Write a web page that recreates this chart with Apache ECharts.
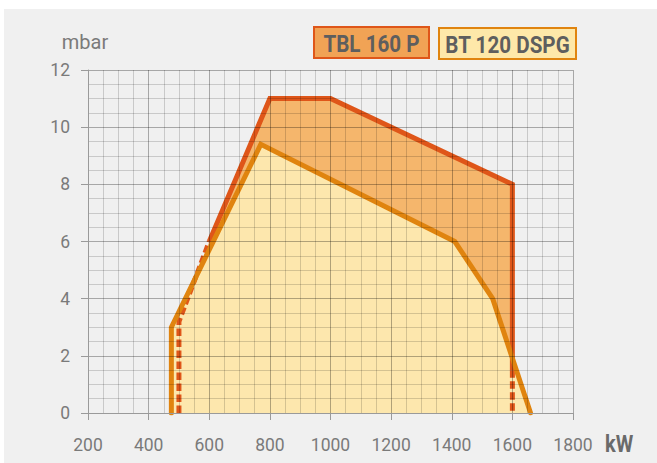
<!DOCTYPE html>
<html>
<head>
<meta charset="utf-8">
<script src="https://cdn.jsdelivr.net/npm/echarts@6/dist/echarts.min.js"></script>
<style>
html,body{margin:0;padding:0;background:#ffffff;}
#bg{position:absolute;left:4px;top:9px;width:653px;height:454px;background:#f0f0f0;}
#chart{position:absolute;left:0;top:0;width:657px;height:463px;}
</style>
</head>
<body>
<div id="bg"></div>
<div id="chart"></div>
<script>
// ---- data ----
const seriesNames = ['TBL 160 P', 'BT 120 DSPG'];
const tblX = [500, 500, 600, 800, 1000, 1600, 1600, 1600];
const tblY = [0, 3.2, 6, 11, 11, 8, 1.5, 0];
const btX = [475, 475, 770, 1410, 1535, 1660];
const btY = [0, 3, 9.4, 6, 4, 0];
const xTickMin = 200, xTickMax = 1800, xTickStep = 200;
const yTickMin = 0, yTickMax = 12, yTickStep = 2;
const xUnit = 'kW', yUnit = 'mbar';

const pts = (xs, ys) => xs.map((x, i) => [x, ys[i]]);
const tbl = pts(tblX, tblY);
const bt = pts(btX, btY);

const FONT = "Roboto, 'DejaVu Sans Condensed', sans-serif";
const RED = '#df5619', ORANGE = '#e0840f';
const TBL_FILL = '#f5b66c', BT_FILL = '#fde7ad';

const chart = echarts.init(document.getElementById('chart'), null, {renderer: 'svg'});

const gridLineMajor = 'rgba(0,0,0,0.30)';
const gridLineMinor = 'rgba(0,0,0,0.16)';

const option = {
  backgroundColor: 'transparent',
  animation: false,
  grid: {left: 88, right: 84, top: 70, bottom: 50},
  xAxis: {
    type: 'value', min: xTickMin, max: xTickMax, interval: xTickStep,
    z: 10,
    axisLine: {show: true, lineStyle: {color: '#9a9a9a', width: 1}},
    axisTick: {show: true, length: 7, lineStyle: {color: '#9a9a9a'}},
    minorTick: {show: true, splitNumber: 4, length: 0},
    axisLabel: {fontFamily: FONT, fontSize: 17.5, color: '#7a7a7a', margin: 23,
                formatter: v => String(v)},
    splitLine: {show: true, lineStyle: {color: gridLineMajor, width: 1}},
    minorSplitLine: {show: true, lineStyle: {color: gridLineMinor, width: 1}}
  },
  yAxis: {
    type: 'value', min: yTickMin, max: yTickMax, interval: yTickStep,
    z: 10,
    name: yUnit, nameLocation: 'end', nameGap: 18,
    nameTextStyle: {fontFamily: FONT, fontSize: 20, color: '#7a7a7a', padding: [0, 6, 0, 0]},
    axisLine: {show: true, lineStyle: {color: '#9a9a9a', width: 1}},
    axisTick: {show: true, length: 7, lineStyle: {color: '#9a9a9a'}},
    minorTick: {show: true, splitNumber: 4, length: 0},
    axisLabel: {fontFamily: FONT, fontSize: 17.5, color: '#7a7a7a', margin: 18,
                formatter: v => String(v)},
    splitLine: {show: true, lineStyle: {color: gridLineMajor, width: 1}},
    minorSplitLine: {show: true, lineStyle: {color: gridLineMinor, width: 1}}
  },
  series: [
    {name: seriesNames[0] + ' area', type: 'line', data: tbl, showSymbol: false, z: 1,
     lineStyle: {width: 0, opacity: 0}, areaStyle: {color: TBL_FILL, opacity: 1}},
    {name: seriesNames[1] + ' area', type: 'line', data: bt, showSymbol: false, z: 2,
     lineStyle: {width: 0, opacity: 0}, areaStyle: {color: BT_FILL, opacity: 1}},
    {name: seriesNames[0], type: 'line', data: tbl.slice(0, 3), showSymbol: false, z: 3,
     lineStyle: {color: RED, width: 5, type: [7.5, 3.5], cap: 'butt', join: 'round'}},
    {name: seriesNames[0], type: 'line', data: tbl.slice(2, 7), showSymbol: false, z: 3,
     lineStyle: {color: RED, width: 5, type: 'solid', cap: 'butt', join: 'miter'}},
    {name: seriesNames[0], type: 'line', data: tbl.slice(6, 8), showSymbol: false, z: 3,
     lineStyle: {color: RED, width: 5, type: [7.5, 3.5], cap: 'butt', join: 'round'}},
    {name: seriesNames[1], type: 'line', data: bt, showSymbol: false, z: 4,
     lineStyle: {color: ORANGE, width: 5, type: 'solid', cap: 'round', join: 'miter'}}
  ],
  graphic: [
    {type: 'group', left: 313, top: 26, children: [
      {type: 'rect', shape: {x: 0, y: 0, width: 115, height: 31},
       style: {fill: '#f1a355', stroke: RED, lineWidth: 2}},
      {type: 'text', x: 57.5, y: 16.5, scaleX: 0.86, style: {text: seriesNames[0], fill: '#5e5e5e',
       font: "bold 24px " + FONT, align: 'center', verticalAlign: 'middle'}}
    ]},
    {type: 'group', left: 438, top: 27, children: [
      {type: 'rect', shape: {x: 0, y: 0, width: 137, height: 31},
       style: {fill: '#fee8a9', stroke: ORANGE, lineWidth: 2}},
      {type: 'text', x: 68.5, y: 16.5, scaleX: 0.86, style: {text: seriesNames[1], fill: '#5e5e5e',
       font: "bold 24px " + FONT, align: 'center', verticalAlign: 'middle'}}
    ]},
    {type: 'text', left: 605, top: 432, scaleX: 0.87, style: {text: xUnit, fill: '#6a6a6a',
     font: "bold 23px " + FONT}}
  ]
};
chart.setOption(option);
</script>
</body>
</html>
